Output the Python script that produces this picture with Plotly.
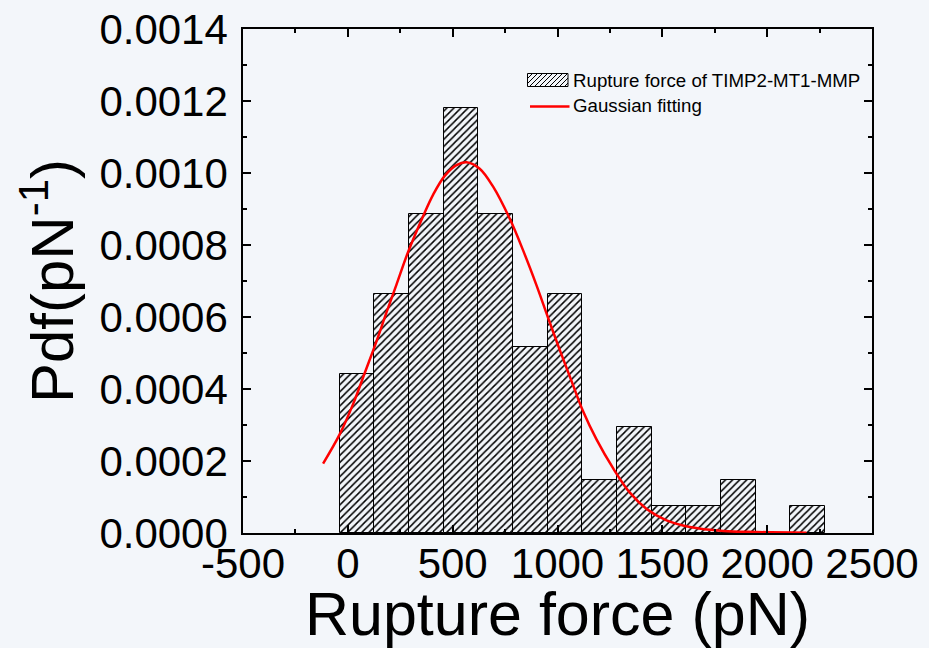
import plotly.graph_objects as go

# Histogram of rupture forces (probability density per bin)
bin_start = -39.0
bin_width = 165.3
pdf_values = [0.000443, 0.000664, 0.000885, 0.00118, 0.000885, 0.000516, 0.000664,
              0.000148, 0.000295, 0.0000738, 0.0000738, 0.000148, 0.0, 0.0000738]

# Gaussian fitting curve, sampled points
fit_x = [-118, -39, 25, 81, 137, 184, 232, 287, 359, 407, 462, 518, 566, 629, 693,
         773, 836, 900, 955, 1011, 1067, 1122, 1186, 1265, 1345, 1425, 1520, 1631,
         1790, 1950, 2188]
fit_y = [0.000193, 0.000274, 0.000358, 0.000445, 0.000533, 0.000612, 0.000690,
         0.000780, 0.000880, 0.000940, 0.000992, 0.001022, 0.001030, 0.001012,
         0.000962, 0.000872, 0.000785, 0.000688, 0.000598, 0.000508, 0.000422,
         0.000338, 0.000260, 0.000180, 0.000112, 0.0000670, 0.0000350, 0.0000165,
         0.0000056, 0.0000028, 0.000001]

x_tickvals = [-500, 0, 500, 1000, 1500, 2000, 2500]
x_ticktext = ["-500", "0", "500", "1000", "1500", "2000", "2500"]

hist_label = "Rupture force of TIMP2-MT1-MMP"
fit_label = "Gaussian fitting"

BG = "#f3f6fa"
FONT = "Liberation Sans, Arial, sans-serif"

W, H = 929, 648
L, R, T, B = 243, 57, 29, 115
PW, PH = W - L - R, H - T - B

centers = [bin_start + bin_width * (i + 0.5) for i in range(len(pdf_values))]

fig = go.Figure()
fig.add_trace(go.Bar(
    x=centers, y=pdf_values, width=bin_width,
    marker=dict(color=BG, line=dict(color="black", width=1),
                pattern=dict(shape="/", fgcolor="black", bgcolor=BG,
                             size=5, solidity=0.3, fillmode="replace")),
    showlegend=False,
))
fig.add_trace(go.Scatter(
    x=fit_x, y=fit_y, mode="lines",
    line=dict(color="#ff0000", width=2.5, shape="spline", smoothing=1.0),
    showlegend=False,
))


def px_to_paper(px, py):
    return (px - L) / PW, (H - B - py) / PH


# legend: hatched swatch
sx0, sx1, sy0, sy1 = 527.5, 568.0, 73.5, 86.5
shapes = []
a, b = px_to_paper(sx0, sy1)
c, d = px_to_paper(sx1, sy0)
shapes.append(dict(type="rect", xref="paper", yref="paper", x0=a, y0=b, x1=c, y1=d,
                   line=dict(color="black", width=1), fillcolor=BG, layer="above"))
h = sy1 - sy0
step = 5.0
path = []
cpos = sx0 - h
while cpos < sx1:
    t0 = max(0.0, sx0 - cpos)
    t1 = min(h, sx1 - cpos)
    if t1 > t0:
        p0 = px_to_paper(cpos + t0, sy1 - t0)
        p1 = px_to_paper(cpos + t1, sy1 - t1)
        path.append(f"M{p0[0]},{p0[1]} L{p1[0]},{p1[1]}")
    cpos += step
shapes.append(dict(type="path", xref="paper", yref="paper", path=" ".join(path),
                   line=dict(color="black", width=1), layer="above"))
# legend: line sample
l0 = px_to_paper(530, 106.5)
l1 = px_to_paper(569.5, 106.5)
shapes.append(dict(type="line", xref="paper", yref="paper", x0=l0[0], y0=l0[1],
                   x1=l1[0], y1=l1[1], line=dict(color="#ff0000", width=2.5),
                   layer="above"))

annotations = []
for label, py in [(hist_label, 80.5), (fit_label, 105.5)]:
    ax, ay = px_to_paper(571, py)
    annotations.append(dict(text=label, x=ax, y=ay, xref="paper", yref="paper",
                            xanchor="left", yanchor="middle", showarrow=False,
                            font=dict(family=FONT, size=18.7, color="black")))

axis_common = dict(
    showline=True, linecolor="black", linewidth=1.5, mirror="ticks",
    ticks="inside", ticklen=8, tickwidth=1.5, tickcolor="black",
    showgrid=False, zeroline=False,
    tickfont=dict(family=FONT, size=42, color="black"),
)

fig.update_layout(
    width=W, height=H,
    margin=dict(l=L, r=R, t=T, b=B, autoexpand=False),
    paper_bgcolor=BG, plot_bgcolor=BG,
    font=dict(family=FONT, color="black"),
    shapes=shapes, annotations=annotations,
    bargap=0,
    xaxis=dict(
        range=[-500, 2500], tickvals=x_tickvals, ticktext=x_ticktext,
        minor=dict(dtick=250, ticks="inside", ticklen=4, tickwidth=1.5, tickcolor="black"),
        title=dict(text="Rupture force (pN)", font=dict(family=FONT, size=61), standoff=6),
        ticklabelstandoff=-7,
        **axis_common,
    ),
    yaxis=dict(
        range=[0, 0.0014], dtick=0.0002, tickformat=".4f",
        minor=dict(dtick=0.0001, ticks="inside", ticklen=4, tickwidth=1.5, tickcolor="black"),
        title=dict(text="Pdf(pN<sup>-1</sup>)", font=dict(family=FONT, size=60), standoff=6),
        ticklabelstandoff=5,
        **axis_common,
    ),
)

fig.write_html("out.html")
